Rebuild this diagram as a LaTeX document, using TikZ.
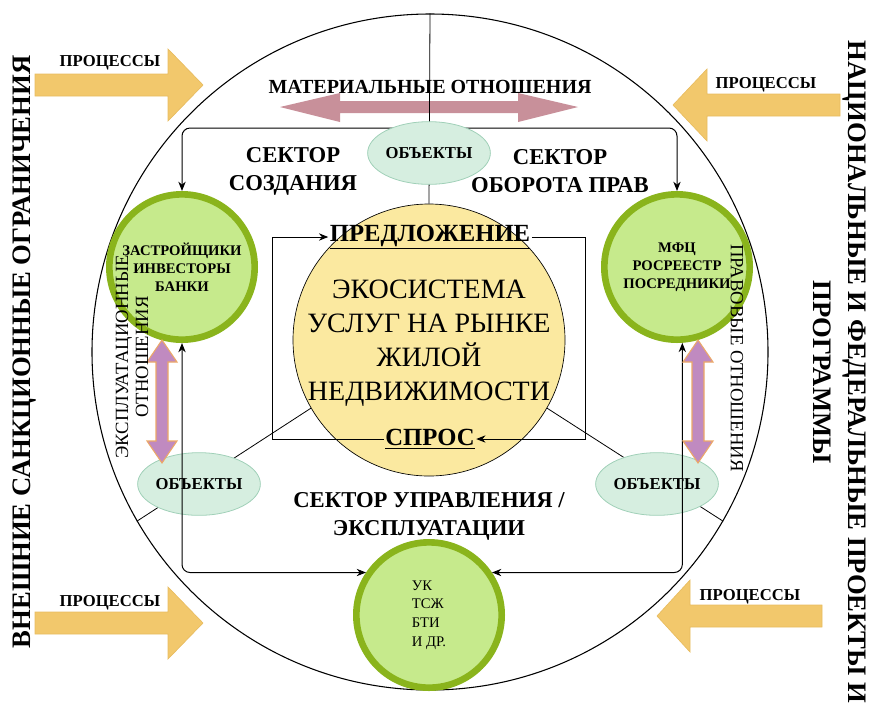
\documentclass[tikz,border=0pt]{standalone}
\usepackage{fontspec}
\setmainfont{Liberation Serif}
\usetikzlibrary{shapes.geometric, arrows.meta}
\definecolor{ringgreen}{RGB}{138,180,28}
\definecolor{fillgreen}{RGB}{198,234,140}
\definecolor{ecoyellow}{RGB}{251,233,160}
\definecolor{objfill}{RGB}{214,238,224}
\definecolor{objdraw}{RGB}{160,208,184}
\definecolor{procfill}{RGB}{242,200,108}
\definecolor{procdraw}{RGB}{232,188,96}
\definecolor{matpink}{RGB}{200,144,154}
\definecolor{relfill}{RGB}{192,138,192}
\definecolor{reldraw}{RGB}{236,168,104}
\begin{document}
\begin{tikzpicture}[x=0.75pt, y=-0.75pt, >={Stealth[length=7pt, width=5.5pt]},
  actor node/.style={circle, draw=ringgreen, fill=fillgreen, line width=5pt, minimum size=109pt, inner sep=0pt, align=center, font=\fontsize{11}{13.5}\selectfont\bfseries},
  object node/.style={ellipse, draw=objdraw, fill=objfill, line width=0.6pt, minimum width=83pt, minimum height=47pt, inner sep=0pt, font=\fontsize{12.5}{14}\selectfont\bfseries},
  sector/.style={align=center, font=\fontsize{17}{21}\selectfont\bfseries},
  proc label/.style={font=\fontsize{12.5}{15}\selectfont\bfseries},
  proc arrow/.style={fill=procfill, draw=procdraw, line width=0.5pt},
  rel arrow/.style={fill=relfill, draw=reldraw, line width=0.8pt},
  side/.style={align=center, font=\fontsize{20}{26}\selectfont\bfseries},
  relation/.style={align=center, font=\fontsize{14}{15}\selectfont},
  market/.style={inner sep=1pt, font=\fontsize{18.5}{20}\selectfont\bfseries},
  link/.style={line width=0.75pt}]

	\useasboundingbox (0,0) rectangle (870,708);

	% outer ring and the core
	\node[circle, draw, line width=0.8pt, minimum size=507pt, inner sep=0pt] (world) at (430,352) {};
	\fill[matpink] (280,107) -- (340,93) -- (340,101) -- (518,101) -- (518,93) -- (578,107) -- (518,122) -- (518,113) -- (340,113) -- (340,122) -- cycle;
	\node[circle, draw, fill=ecoyellow, line width=0.5pt, minimum size=204pt, inner sep=0pt] (eco) at (429,340) {};
	\node[align=center, font=\fontsize{21}{25.5}\selectfont] (ecotext) at (429,343) {ЭКОСИСТЕМА\\УСЛУГ НА РЫНКЕ\\ЖИЛОЙ\\НЕДВИЖИМОСТИ};

	% sector borders
	\draw[line width=0.6pt] (world.north) -- (eco.north);
	\draw[line width=0.6pt] (eco.210) -- (world.210);
	\draw[line width=0.6pt] (eco.330) -- (world.330);

	% supply / demand loop
	\node[market] (supply) at (430,237) {\underline{ПРЕДЛОЖЕНИЕ}};
	\node[market] (demand) at (430,439) {\underline{СПРОС}};
	\coordinate (loopl) at (272,0);
	\coordinate (loopr) at (585,0);
	\draw[link, ->] (supply.east) -| (loopr |- demand.east) -- (demand.east);
	\draw[link, ->] (demand.west) -| (loopl |- supply.west) -- (supply.west);

	% participants
	\node[actor node] (lg) at (182,267) {ЗАСТРОЙЩИКИ\\ИНВЕСТОРЫ\\БАНКИ};
	\node[actor node] (rg) at (677,267) {МФЦ\\РОСРЕЕСТР\\ПОСРЕДНИКИ};
	\node[actor node, align=left, font=\fontsize{11}{14}\selectfont] (uk) at (429,615) {УК\\ТСЖ\\БТИ\\ И ДР.};

	\coordinate (topbar) at (430,128);
	\draw[link, <->, rounded corners=6pt] (lg.north) -- (lg.north |- topbar) -- (rg.north |- topbar) -- (rg.north);

	% objects
	\node[object node] (otop) at (429,153) {ОБЪЕКТЫ};
	\node[object node] (oleft) at (199,484) {ОБЪЕКТЫ};
	\node[object node] (oright) at (657,484) {ОБЪЕКТЫ};

	\draw[link, <->, rounded corners=6pt] (lg.south) |- (uk.146);
	\draw[link, <->, rounded corners=6pt] (rg.274) |- (uk.34);

	% relation arrows
	\foreach \cx in {162, 698}
		\draw[rel arrow] (\cx,340) -- (\cx+15,362) -- (\cx+6,362) -- (\cx+6,441) -- (\cx+15,441) -- (\cx,463) -- (\cx-15,441) -- (\cx-6,441) -- (\cx-6,362) -- (\cx-15,362) -- cycle;

	% processes from outside
	\foreach \tx/\hx/\px/\cy in {35/168/203/85, 35/168/203/623, 840/707/673/105, 822/690/657/616}
		\draw[proc arrow] (\tx,\cy-11) -- (\hx,\cy-11) -- (\hx,\cy-36) -- (\px,\cy) -- (\hx,\cy+36) -- (\hx,\cy+11) -- (\tx,\cy+11) -- cycle;
	\node[proc label] (proctl) at (110,63) {ПРОЦЕССЫ};
	\node[proc label] (procbl) at (110,603) {ПРОЦЕССЫ};
	\node[proc label] (proctr) at (766,85) {ПРОЦЕССЫ};
	\node[proc label] (procbr) at (750,597) {ПРОЦЕССЫ};

	% labels
	\node[font=\fontsize{15}{18}\selectfont\bfseries] (material) at (430,87) {МАТЕРИАЛЬНЫЕ ОТНОШЕНИЯ};
	\node[sector] (creation) at (293,171) {СЕКТОР\\СОЗДАНИЯ};
	\node[sector] (rights) at (560,171) {СЕКТОР\\ОБОРОТА ПРАВ};
	\node[sector] (manage) at (429,516) {СЕКТОР УПРАВЛЕНИЯ /\\ЭКСПЛУАТАЦИИ};
	\node[relation, rotate=90] (exploit) at (132,357) {ЭКСПЛУАТАЦИОННЫЕ\\ОТНОШЕНИЯ};
	\node[relation, rotate=-90] (legal) at (737,358) {ПРАВОВЫЕ ОТНОШЕНИЯ};
	\node[side, rotate=90] (sanctions) at (25,352) {ВНЕШНИЕ САНКЦИОННЫЕ ОГРАНИЧЕНИЯ};
	\node[side, rotate=-90] (programs) at (840,372) {НАЦИОНАЛЬНЫЕ И ФЕДЕРАЛЬНЫЕ ПРОЕКТЫ И\\ПРОГРАММЫ};

\end{tikzpicture}
\end{document}
